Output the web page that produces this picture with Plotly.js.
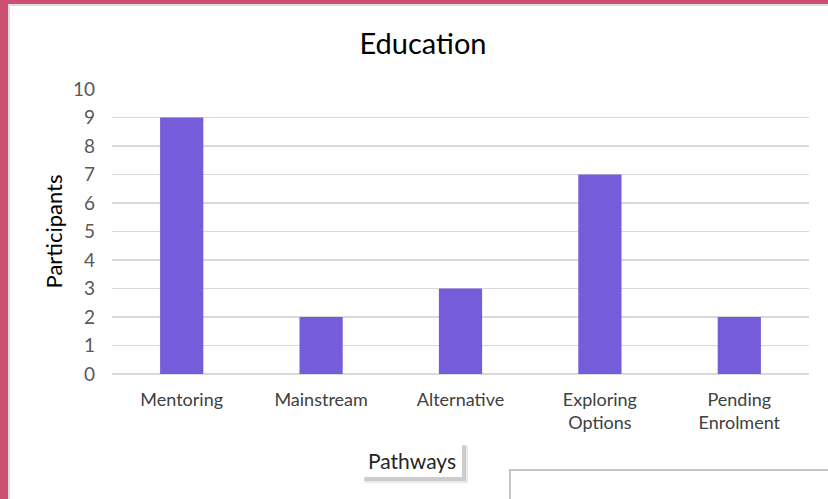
<!DOCTYPE html>
<html>
<head>
<meta charset="utf-8">
<script src="https://cdn.plot.ly/plotly-3.0.1.min.js"></script>
<style>
html,body{margin:0;padding:0;background:#fff;}
#wrap{position:relative;width:828px;height:499px;overflow:hidden;background:#fff;}
#topbar{position:absolute;left:0;top:0;width:828px;height:4px;background:#cc4f74;}
#leftbar{position:absolute;left:0;top:0;width:8px;height:499px;background:#cc4f74;}
#topline{position:absolute;left:8px;top:4px;width:820px;height:2px;background:#dcdcdc;}
#leftline{position:absolute;left:8px;top:4px;width:2px;height:495px;background:#dcdcdc;}
#chart{position:absolute;left:0;top:0;}
</style>
</head>
<body>
<div id="wrap">
<div id="chart"></div>
<div id="topbar"></div><div id="leftbar"></div><div id="topline"></div><div id="leftline"></div>
</div>
<script>
const categories = ["Mentoring", "Mainstream", "Alternative", "Exploring<br>Options", "Pending<br>Enrolment"];
const participants = [9, 2, 3, 7, 2];
const yTicks = [0,1,2,3,4,5,6,7,8,9,10];

const W = 828, H = 499, L = 112, R = 19, T = 89, B = 125;
const pw = W - L - R, ph = H - T - B;
const px = v => (v - L) / pw;
const py = v => (H - B - v) / ph;

const font = "Lato, 'Open Sans', 'Liberation Sans', sans-serif";

Plotly.newPlot('chart', [{
  type: 'bar',
  x: categories,
  y: participants,
  marker: {color: '#745cdb'},
  hoverinfo: 'none'
}], {
  width: W, height: H,
  margin: {l: L, r: R, t: T, b: B, pad: 0},
  paper_bgcolor: 'rgba(0,0,0,0)',
  plot_bgcolor: '#ffffff',
  bargap: 0.69,
  showlegend: false,
  title: {text: 'Education', x: 423/W, xanchor: 'center', xref: 'container',
          y: 1 - 44/H, yanchor: 'middle', yref: 'container',
          font: {family: font, size: 29, color: '#000000'}},
  xaxis: {
    tickfont: {family: font, size: 18, color: '#404040'},
    showgrid: false, showline: false, ticks: '', ticklen: 0, ticklabelstandoff: 13
  },
  yaxis: {
    range: [0, 10], tickvals: yTicks, ticktext: yTicks.map(String),
    tickfont: {family: font, size: 19, color: '#595959'},
    gridcolor: '#d9d9d9', gridwidth: 1.5, zeroline: true, zerolinecolor: '#d9d9d9', zerolinewidth: 1.5,
    showline: false, ticks: '', ticklabelstandoff: 16,
    title: {text: 'Participants', standoff: 4, font: {family: font, size: 22, color: '#000000'}}
  },
  annotations: [
    {text: 'Pathways', xref: 'paper', yref: 'paper', x: px(412), y: py(460),
     xanchor: 'center', yanchor: 'middle', showarrow: false,
     font: {family: font, size: 21, color: '#262626'}}
  ],
  shapes: [
    {type: 'rect', xref: 'paper', yref: 'paper', x0: px(365), x1: px(468), y0: py(483), y1: py(446),
     fillcolor: '#c8c8c8', line: {width: 0}, opacity: 0.4, layer: 'above'},
    {type: 'rect', xref: 'paper', yref: 'paper', x0: px(364), x1: px(466), y0: py(481), y1: py(445),
     fillcolor: '#a8a8a8', line: {width: 0}, opacity: 0.45, layer: 'above'},
    {type: 'rect', xref: 'paper', yref: 'paper', x0: px(362), x1: px(462), y0: py(477), y1: py(443),
     fillcolor: '#ffffff', line: {width: 0}, layer: 'above'},
    {type: 'rect', xref: 'paper', yref: 'paper', x0: px(510), x1: px(840), y0: py(520), y1: py(470),
     fillcolor: '#ffffff', line: {width: 2, color: '#c4c4c4'}, layer: 'above'}
  ]
}, {staticPlot: true});
</script>
</body>
</html>
